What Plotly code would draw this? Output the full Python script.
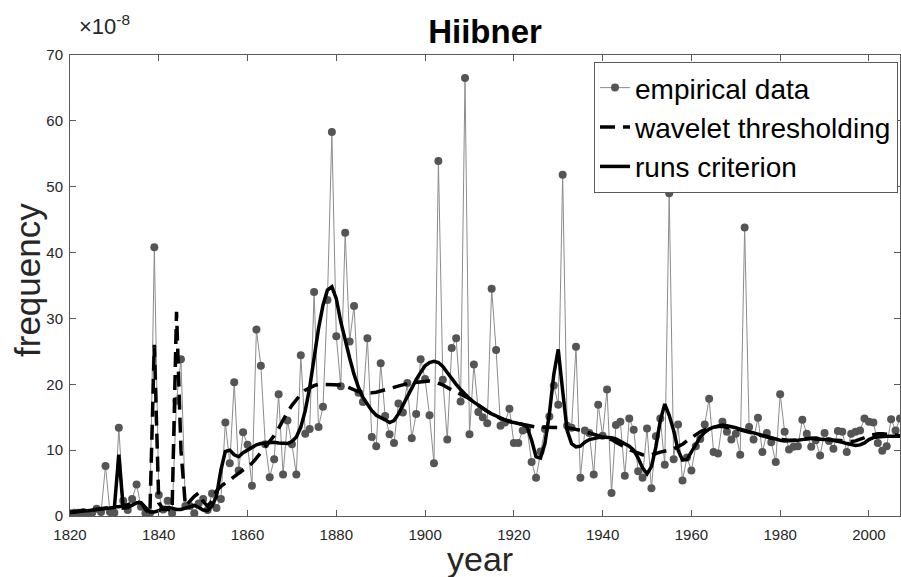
import plotly.graph_objects as go

years = list(range(1820, 2008))

empirical = [
    0.4, 0.5, 0.5, 0.6, 0.4, 0.5, 1.1, 0.6, 7.6, 0.6,      # 1820-1829
    0.5, 13.4, 2.3, 0.9, 2.6, 4.8, 1.4, 0.4, 0.4, 40.8,    # 1830-1839
    3.2, 1.0, 2.3, 0.4, 17.5, 23.8, 1.5, 1.5, 0.4, 1.9,    # 1840-1849
    2.6, 0.9, 3.4, 1.2, 2.6, 14.2, 8.0, 20.3, 6.9, 12.7,   # 1850-1859
    10.8, 4.6, 28.3, 22.8, 10.9, 5.9, 8.6, 18.5, 6.3, 14.5,  # 1860-1869
    10.9, 6.3, 24.4, 12.5, 13.2, 34.0, 13.5, 16.6, 32.8, 58.3,  # 1870-1879
    27.3, 19.7, 43.0, 26.5, 31.9, 18.7, 17.3, 27.0, 12.0, 10.6,  # 1880-1889
    23.2, 15.2, 12.4, 11.1, 17.1, 15.7, 20.2, 11.8, 15.5, 23.8,  # 1890-1899
    20.8, 15.3, 8.0, 53.9, 20.7, 11.6, 25.5, 27.0, 17.4, 66.5,   # 1900-1909
    12.4, 23.0, 15.8, 15.0, 14.1, 34.5, 25.2, 13.7, 14.2, 16.3,  # 1910-1919
    11.1, 11.1, 13.0, 13.2, 8.2, 5.8, 9.8, 13.2, 15.1, 19.8,     # 1920-1929
    16.9, 51.8, 13.7, 13.4, 25.7, 5.8, 13.0, 12.6, 6.3, 16.9,    # 1930-1939
    12.2, 19.2, 3.5, 13.8, 14.3, 6.1, 14.8, 13.1, 6.8, 5.8,      # 1940-1949
    13.3, 4.2, 12.1, 14.8, 7.8, 49.0, 8.6, 13.9, 5.4, 8.9,       # 1950-1959
    6.9, 10.6, 11.7, 13.9, 17.8, 9.7, 9.5, 14.3, 12.8, 11.6,     # 1960-1969
    12.5, 9.3, 43.8, 13.5, 11.6, 14.9, 9.7, 12.6, 11.2, 8.2,     # 1970-1979
    18.5, 12.8, 10.1, 10.5, 10.6, 14.6, 12.5, 10.5, 11.5, 9.2,   # 1980-1989
    12.6, 11.4, 10.2, 12.9, 12.8, 9.7, 12.5, 12.8, 13.0, 14.8,   # 1990-1999
    14.3, 14.2, 11.1, 9.9, 10.6, 14.7, 13.0, 14.8,               # 2000-2007
]

wavelet = [
    0.5, 0.6, 0.7, 0.8, 0.8, 0.9, 1.0, 1.1, 1.3, 1.4,
    1.4, 1.4, 1.5, 1.7, 2.0, 2.2, 2.0, 1.0, 0.3, 26.0,
    2.0, 1.0, 1.0, 0.8, 31.0, 10.0, 1.5, 2.3, 3.0, 3.5,
    2.2, 1.5, 2.3, 3.8, 4.5, 5.0, 5.4, 6.0, 6.5, 7.0,
    7.4, 8.0, 8.8, 9.6, 10.4, 11.2, 12.2, 13.3, 14.6, 15.8,
    16.8, 17.7, 18.5, 19.1, 19.5, 19.8, 20.0, 20.0, 20.0, 20.0,
    20.0, 19.9, 19.7, 19.4, 19.1, 18.9, 18.8, 18.7, 18.7, 18.8,
    19.0, 19.2, 19.4, 19.6, 19.8, 20.0, 20.1, 20.2, 20.3, 20.4,
    20.5, 20.5, 20.4, 20.2, 19.9, 19.5, 19.1, 18.8, 18.5, 18.2,
    17.8, 17.3, 16.8, 16.3, 15.9, 15.5, 15.1, 14.8, 14.6, 14.4,
    14.2, 14.0, 13.9, 13.8, 13.6, 13.5, 13.5, 13.5, 13.5, 13.5,
    13.5, 13.5, 13.4, 13.3, 13.2, 13.0, 12.8, 12.6, 12.4, 12.2,
    12.1, 11.9, 11.6, 11.2, 10.8, 10.4, 10.1, 9.8, 9.5, 9.3,
    9.2, 9.3, 9.5, 9.7, 9.8, 10.0, 10.2, 10.5, 10.9, 11.4,
    11.9, 12.4, 12.8, 13.1, 13.3, 13.5, 13.6, 13.6, 13.5, 13.4,
    13.3, 13.1, 12.9, 12.7, 12.5, 12.3, 12.1, 12.0, 11.8, 11.7,
    11.6, 11.5, 11.5, 11.5, 11.6, 11.7, 11.8, 11.8, 11.8, 11.7,
    11.7, 11.6, 11.5, 11.5, 11.4, 11.3, 11.3, 11.4, 11.6, 11.9,
    12.2, 12.4, 12.5, 12.5, 12.4, 12.3, 12.2, 12.2,
]

runs = [
    0.6, 0.7, 0.8, 0.8, 0.8, 0.9, 1.0, 1.1, 1.2, 1.2,
    1.3, 9.3, 1.2, 1.3, 1.6, 2.0, 2.0, 1.2, 0.6, 0.6,
    0.8, 1.2, 1.3, 1.2, 1.0, 1.0, 1.2, 1.5, 1.6, 1.3,
    0.9, 0.8, 1.5, 3.0, 7.0, 9.8, 10.0, 9.3, 9.0, 9.6,
    10.0, 10.4, 10.8, 11.0, 11.1, 11.2, 11.2, 11.1, 11.0, 11.0,
    11.3, 12.0, 13.5, 16.0, 19.5, 24.0, 28.5, 32.0, 34.3, 34.8,
    33.0, 29.5, 26.5, 24.0, 21.5, 19.5, 18.0, 17.0, 16.0, 15.3,
    15.0, 14.6, 14.2, 14.5, 15.5, 16.8, 18.2, 19.5, 20.7, 21.8,
    22.8, 23.3, 23.5, 23.3, 22.7, 21.8, 20.8, 20.0, 19.2, 18.5,
    17.8, 17.3, 16.8, 16.3, 15.9, 15.5, 15.2, 14.9, 14.6, 14.3,
    14.2, 14.0, 13.9, 13.5, 11.5, 9.0, 8.8, 11.0, 15.5, 21.5,
    25.3, 19.0, 13.0, 11.0, 10.5, 10.6, 11.2, 11.6, 11.8, 11.9,
    12.0, 12.0, 11.9, 11.7, 11.3, 11.0, 10.6, 10.0, 8.8, 7.3,
    6.4, 7.5, 10.5, 14.5, 17.0, 15.3, 13.0, 10.0, 8.5, 8.6,
    9.8, 11.0, 12.0, 12.7, 13.2, 13.5, 13.7, 13.8, 13.7, 13.6,
    13.4, 13.2, 13.0, 12.8, 12.6, 12.4, 12.2, 12.0, 11.8, 11.6,
    11.5, 11.4, 11.4, 11.4, 11.5, 11.6, 11.7, 11.8, 11.7, 11.6,
    11.6, 11.6, 11.5, 11.4, 11.2, 11.0, 10.8, 10.7, 10.8, 11.1,
    11.6, 11.9, 12.0, 12.1, 12.1, 12.1, 12.1, 12.1,
]

x_ticks = list(range(1820, 2001, 20))
y_ticks = list(range(0, 71, 10))

FONT = "Liberation Sans, Arial, sans-serif"
AXIS_COLOR = "#262626"

fig = go.Figure()
fig.add_trace(go.Scatter(
    x=years, y=empirical, name="empirical data", mode="lines+markers",
    line=dict(color="#8c8c8c", width=1),
    marker=dict(color="#555555", size=8),
))
fig.add_trace(go.Scatter(
    x=years, y=wavelet, name="wavelet thresholding", mode="lines",
    line=dict(color="black", width=3.5, dash="15px,8px"),
))
fig.add_trace(go.Scatter(
    x=years, y=runs, name="runs criterion", mode="lines",
    line=dict(color="black", width=3.5),
))

axis_common = dict(
    showgrid=False, zeroline=False, showline=True, linecolor="#5a5a5a",
    linewidth=1, ticks="inside", ticklen=6, tickcolor="#5a5a5a",
    mirror="ticks", automargin=False,
    tickfont=dict(family=FONT, size=15, color=AXIS_COLOR),
)

fig.update_layout(
    width=901, height=577,
    margin=dict(l=70, r=1, t=55, b=61, autoexpand=False),
    paper_bgcolor="white", plot_bgcolor="white",
    font=dict(family=FONT, color=AXIS_COLOR),
    title=dict(text="<b>Hiibner</b>", x=0.5, xref="paper", xanchor="center",
               y=0.945, yanchor="middle",
               font=dict(family=FONT, size=33, color="black")),
    xaxis=dict(range=[1820, 2007], tickvals=x_ticks, ticklabelstandoff=5, **axis_common),
    yaxis=dict(range=[0, 70], tickvals=y_ticks, ticklabelstandoff=3, **axis_common),
    legend=dict(x=0.9976, xanchor="right", y=0.985, yanchor="top",
                bgcolor="white", bordercolor="#5a5a5a", borderwidth=1,
                font=dict(family=FONT, size=28, color="black"),
                tracegroupgap=0),
    showlegend=True,
    annotations=[
        dict(text="×10<sup>-8</sup>", xref="paper", yref="paper",
             x=0.008, y=1.03, xanchor="left", yanchor="bottom",
             showarrow=False, font=dict(family=FONT, size=22, color=AXIS_COLOR)),
        dict(text="year", xref="paper", yref="paper", x=0.494, y=-0.093,
             xanchor="center", yanchor="middle", showarrow=False,
             font=dict(family=FONT, size=34, color=AXIS_COLOR)),
        dict(text="frequency", xref="paper", yref="paper", x=-0.0506, y=0.512,
             xanchor="center", yanchor="middle", textangle=-90, showarrow=False,
             font=dict(family=FONT, size=35, color=AXIS_COLOR)),
    ],
)

fig.write_html("out.html", config={"displayModeBar": False},
               post_script="document.body.style.margin='0px';")
